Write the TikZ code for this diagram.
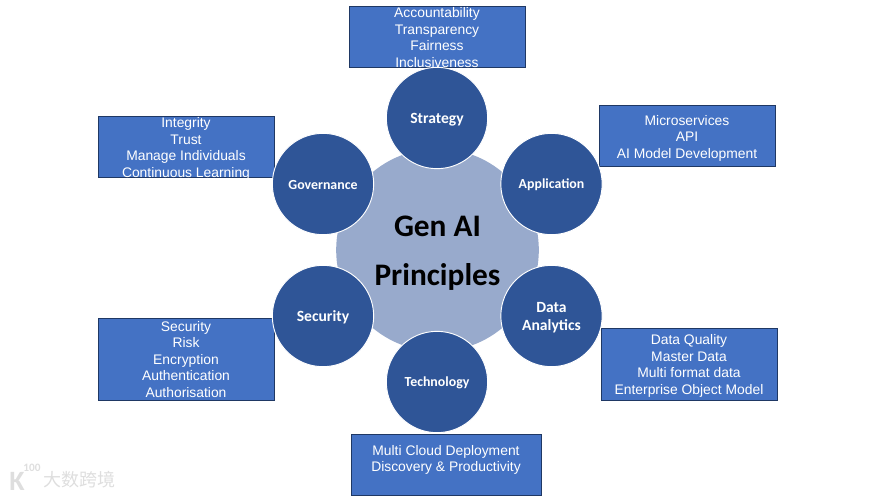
\documentclass[tikz,border=0pt]{standalone}
\usepackage{fontspec}
\setmainfont{Liberation Sans}
\newfontfamily\calibri{Carlito}
\newfontfamily\cjkmark{Noto Sans CJK SC}
\usepackage{xcolor}
\usetikzlibrary{positioning}
\definecolor{boxblue}   {RGB}{68,114,196}
\definecolor{boxedge}   {RGB}{31,56,100}
\definecolor{topicblue} {RGB}{47,85,151}
\definecolor{coreblue}  {RGB}{152,170,204}
\definecolor{markgray}  {RGB}{222,222,222}
\newcommand{\topgap}[1]{\rule{0pt}{#1}}
\tikzset{
  itembox/.style={draw=boxedge, fill=boxblue, line width=0.6pt, align=center,
                  minimum width=132pt, minimum height=46pt, inner sep=0pt,
                  text=white, font=\fontsize{10.4}{12.35}\selectfont},
  topic/.style  ={circle, draw=white, fill=topicblue, line width=0.7pt, align=center,
                  minimum size=76pt, inner sep=0pt, text=white,
                  font=\calibri\bfseries\fontsize{11.7}{13.5}\selectfont},
  smalltopic/.style={topic, font=\calibri\bfseries\fontsize{10.4}{13}\selectfont},
  core/.style   ={circle, fill=coreblue, minimum size=152pt, inner sep=0pt, align=center,
                  font=\calibri\bfseries\fontsize{23.5}{37}\selectfont},
  wmark/.style  ={inner sep=0pt, text=markgray},
}
\begin{document}
\begin{tikzpicture}[x=0.75pt,y=-0.75pt]
  \useasboundingbox (0,0) rectangle (875,497);
  % text boxes
  \node[itembox] (strategybox) at (437,37) {\topgap{8.3pt}Accountability\\Transparency\\Fairness\\Inclusiveness};
  \node[itembox, text height=45.5pt, text depth=0.5pt] (govbox) at (186,147) {Integrity\\Trust\\Manage Individuals\\Continuous Learning};
  \node[itembox] (appbox) at (687,136) {\topgap{10.5pt}Microservices\\API\\AI Model Development};
  \node[itembox, minimum height=62pt] (secbox) at (186,359.5) {Security\\Risk\\Encryption\\Authentication\\Authorisation};
  \node[itembox, minimum height=54.5pt] (databox) at (689,364.5) {\topgap{9.7pt}Data Quality\\Master Data\\Multi format data\\Enterprise Object Model};
  \node[itembox, minimum width=142.5pt] (techbox) at (446,465) {\topgap{9.7pt}Multi Cloud Deployment\\Discovery \& Productivity\\~};
  % centre and topics
  \node[core] (genai) at (437.5,250) {\topgap{20pt}Gen AI\\Principles};
  \node[topic] (strategy) at (437,118) {\topgap{10pt}Strategy};
  \node[smalltopic] (application) at (551.5,184) {\topgap{9pt}Application};
  \node[topic] (data) at (551.5,316) {\topgap{10pt}Data\\Analytics};
  \node[smalltopic] (technology) at (437,382) {\topgap{9pt}Technology};
  \node[topic] (security) at (323,316) {\topgap{10pt}Security};
  \node[smalltopic] (governance) at (323,184) {\topgap{9pt}Governance};
  % watermark
  \node[wmark, font=\calibri\bfseries\fontsize{21}{21}\selectfont] (logok) at (17,481) {K};
  \node[wmark, font=\calibri\bfseries\fontsize{8.5}{9}\selectfont] (logonum) at (32,468) {100};
  \node[wmark, font=\cjkmark\fontsize{13.5}{14}\selectfont, anchor=west] (logotext) at (43,480) {大数跨境};
\end{tikzpicture}
\end{document}
